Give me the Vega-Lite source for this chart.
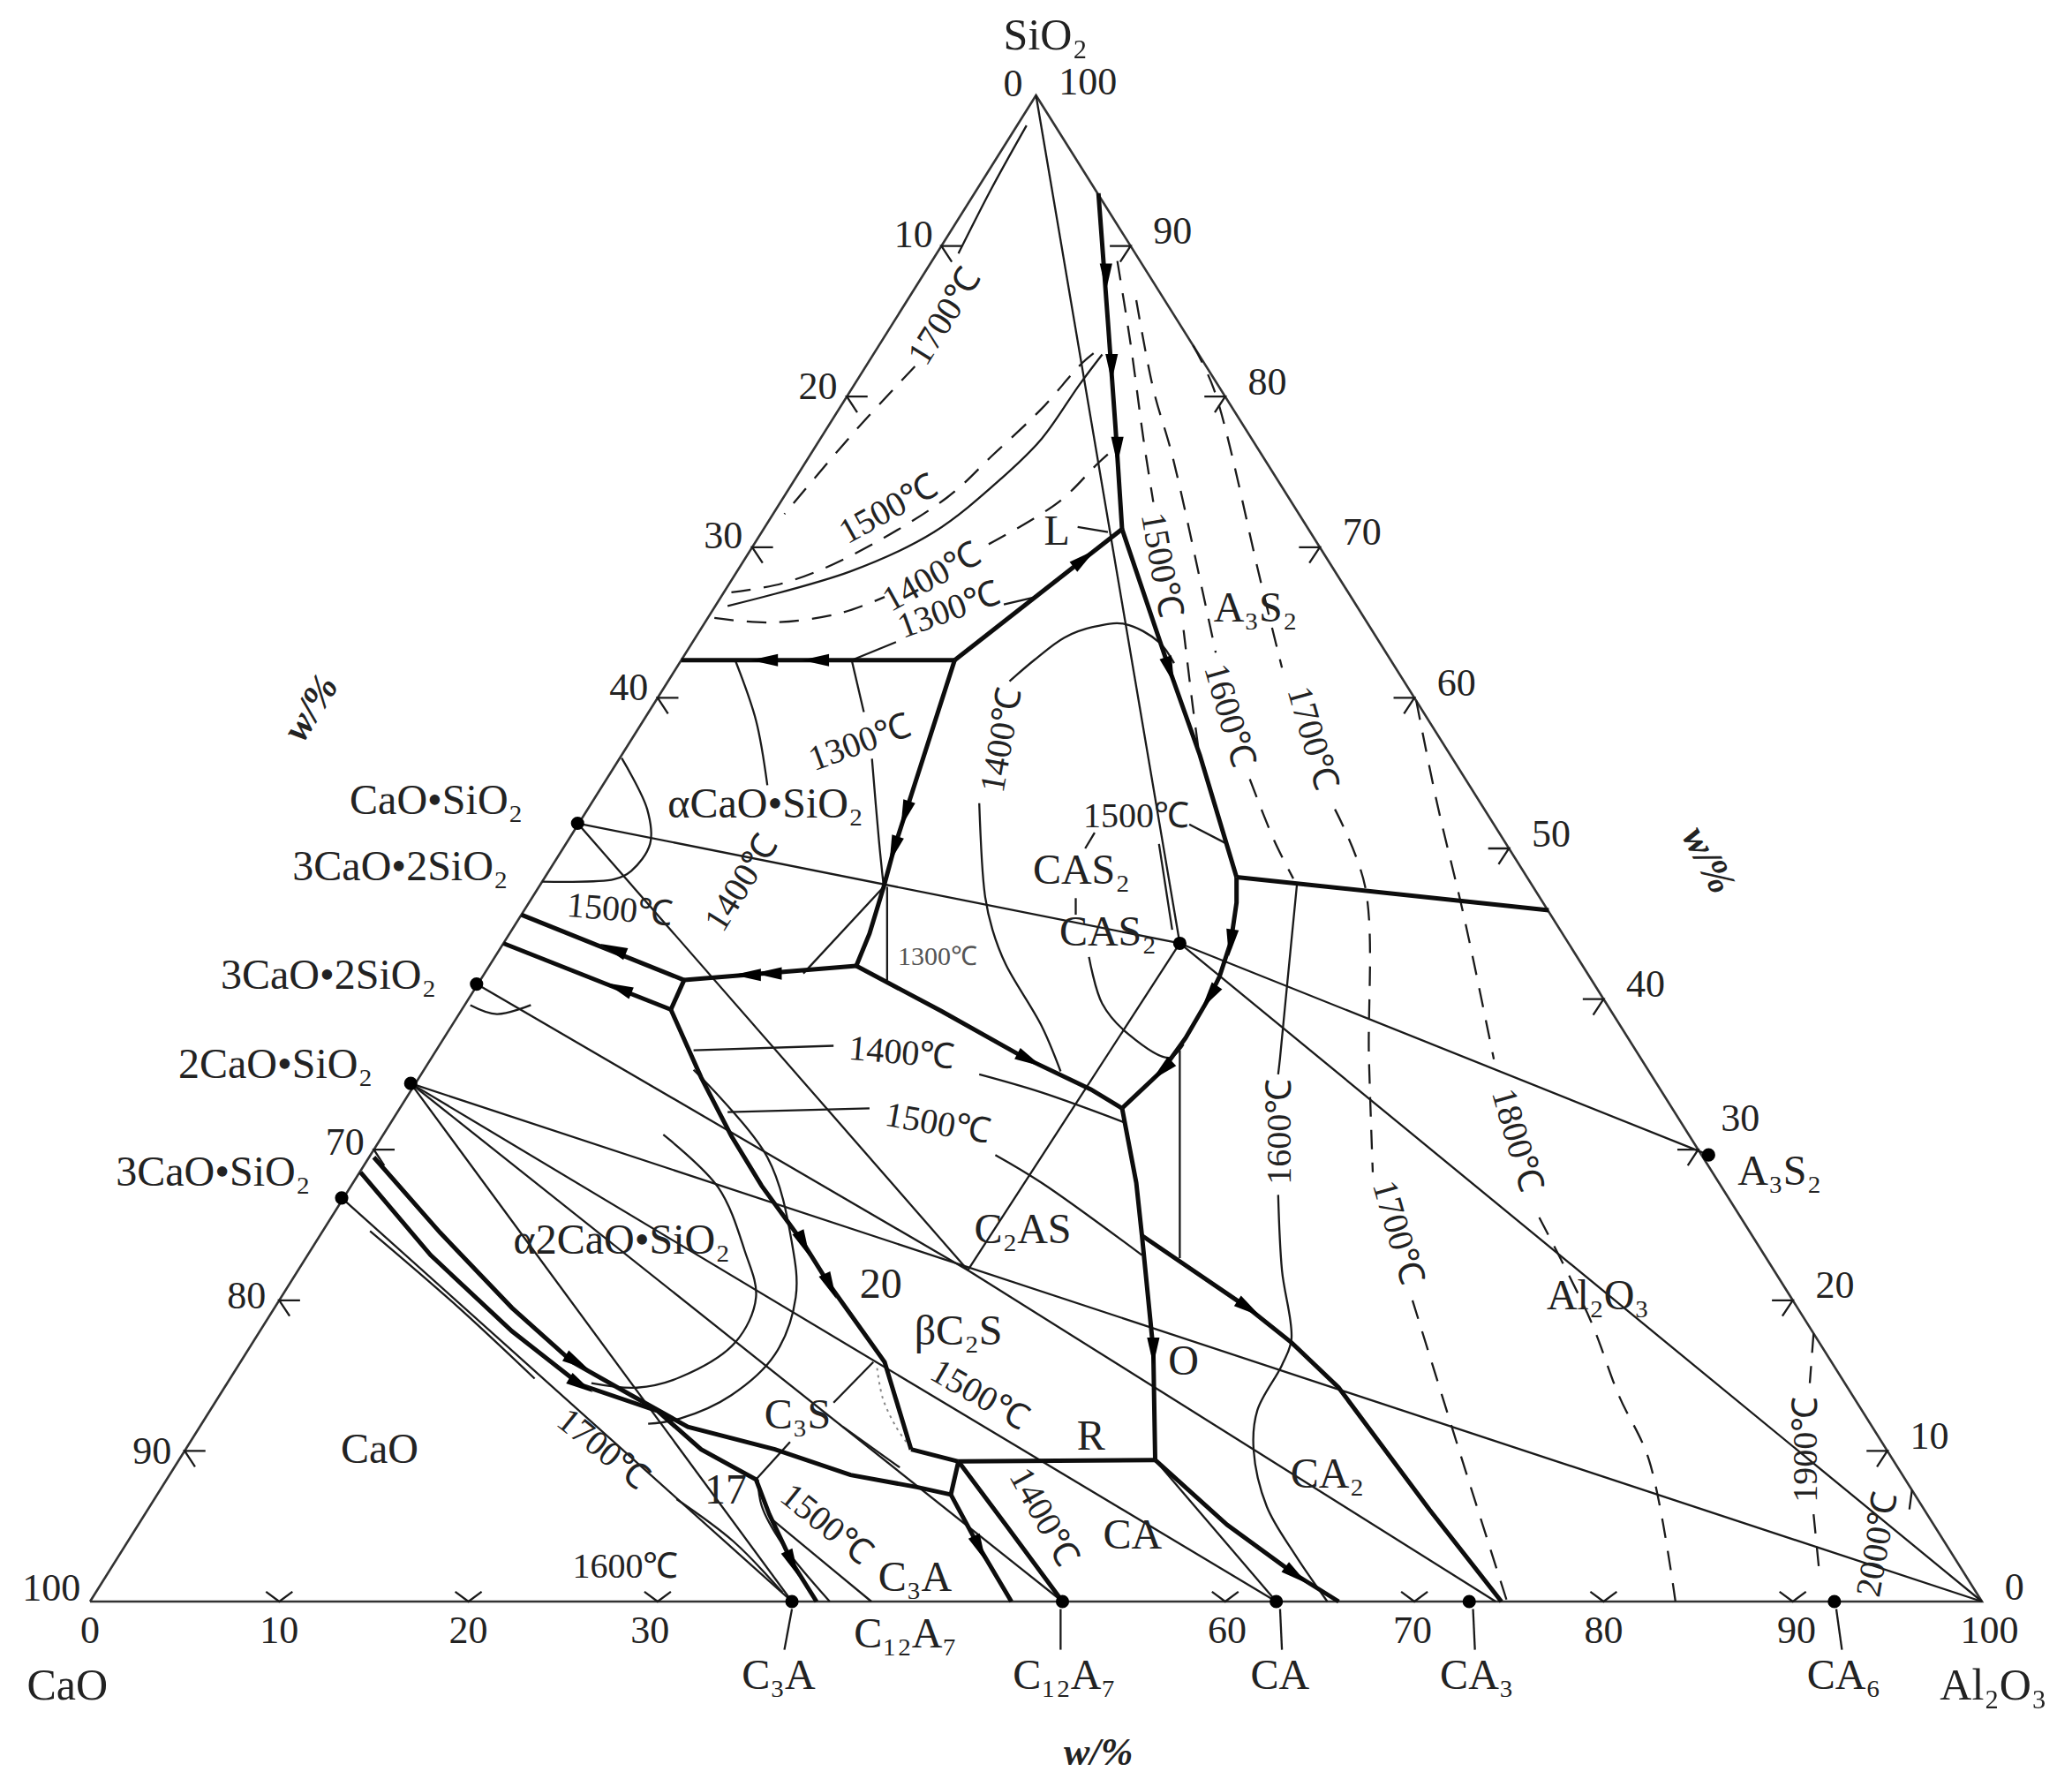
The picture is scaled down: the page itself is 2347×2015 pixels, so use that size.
{
"$schema": "https://vega.github.io/schema/vega-lite/v6.json",
"width": 2143, "height": 1706,
"autosize": {"type": "none"},
"padding": {"left": 102, "top": 108, "right": 102, "bottom": 201},
"background": "white",
"config": {"view": {"stroke": null}},
"datasets": {
"frame": [{"o":1,"x":0,"y":0},{"o":2,"x":100,"y":0},{"o":3,"x":50,"y":100},{"o":4,"x":0,"y":0}],
"thin": [
{"g":"t1","o":1,"x":50,"y":100},{"g":"t1","o":2,"x":57.6,"y":43.7},
{"g":"t2","o":1,"x":25.77,"y":51.67},{"g":"t2","o":2,"x":57.6,"y":43.7},
{"g":"t3","o":1,"x":57.6,"y":43.7},{"g":"t3","o":2,"x":85.55,"y":29.65},
{"g":"t4","o":1,"x":57.6,"y":43.7},{"g":"t4","o":2,"x":100,"y":0},
{"g":"t6","o":1,"x":16.95,"y":34.4},{"g":"t6","o":2,"x":100,"y":0},
{"g":"t7","o":1,"x":16.95,"y":34.4},{"g":"t7","o":2,"x":62.7,"y":0},
{"g":"t8","o":1,"x":16.95,"y":34.4},{"g":"t8","o":2,"x":51.4,"y":0},
{"g":"t9","o":1,"x":16.95,"y":34.4},{"g":"t9","o":2,"x":37.1,"y":0},
{"g":"t10","o":1,"x":13.3,"y":26.8},{"g":"t10","o":2,"x":37.1,"y":0},
{"g":"t11","o":1,"x":25.77,"y":51.67},{"g":"t11","o":2,"x":46.4,"y":22},
{"g":"t12","o":1,"x":57.6,"y":43.7},{"g":"t12","o":2,"x":46.4,"y":22},
{"g":"t13","o":1,"x":46.4,"y":22},{"g":"t13","o":2,"x":74.3,"y":0},
{"g":"t14","o":1,"x":20.43,"y":41},{"g":"t14","o":2,"x":46.4,"y":22},
{"g":"t16","o":1,"x":56.3,"y":9.4},{"g":"t16","o":2,"x":62.7,"y":0},
{"g":"t17","o":1,"x":37.7,"y":41.7},{"g":"t17","o":2,"x":41.95,"y":47.45},
{"g":"i1300a","o":1,"x":40.26,"y":62.5},{"g":"i1300a","o":2,"x":42.6,"y":63.7},
{"g":"i1300a2","o":1,"x":48.3,"y":66.2},{"g":"i1300a2","o":2,"x":50,"y":66.7},
{"g":"i1300b","o":1,"x":40.26,"y":62.5},{"g":"i1300b","o":2,"x":40.9,"y":59.05},
{"g":"i1300c","o":1,"x":42.13,"y":47.45},{"g":"i1300c","o":2,"x":42.13,"y":41.26},
{"g":"vcas","o":1,"x":56.5,"y":50.3},{"g":"vcas","o":2,"x":57.2,"y":44.6},
{"g":"vcas2","o":1,"x":57.6,"y":36.6},{"g":"vcas2","o":2,"x":57.6,"y":22.8},
{"g":"i1400c2s","o":1,"x":31.9,"y":36.6},{"g":"i1400c2s","o":2,"x":39.3,"y":36.9},
{"g":"i1500c2s","o":1,"x":33.7,"y":32.5},{"g":"i1500c2s","o":2,"x":41.2,"y":32.75},
{"g":"i1500c3a","o":1,"x":35.9,"y":5.6},{"g":"i1500c3a","o":2,"x":41.3,"y":0},
{"g":"c3sl1","o":1,"x":39.3,"y":13.2},{"g":"c3sl1","o":2,"x":41.4,"y":15.9},
{"g":"c3sl2","o":1,"x":39.8,"y":11.6},{"g":"c3sl2","o":2,"x":42.8,"y":8.9},
{"g":"c3sl3","o":1,"x":35.2,"y":8.1},{"g":"c3sl3","o":2,"x":37,"y":10.6},
{"g":"larr","o":1,"x":52.2,"y":71.35},{"g":"larr","o":2,"x":53.8,"y":71},
{"g":"casl","o":1,"x":52.1,"y":46.7},{"g":"casl","o":2,"x":52.1,"y":45.6},
{"g":"lc3a","o":1,"x":37.1,"y":-0.5},{"g":"lc3a","o":2,"x":36.7,"y":-3.2},
{"g":"lc12","o":1,"x":51.3,"y":-0.5},{"g":"lc12","o":2,"x":51.3,"y":-3.2},
{"g":"lca","o":1,"x":62.9,"y":-0.5},{"g":"lca","o":2,"x":63,"y":-3.2},
{"g":"lca3","o":1,"x":73.1,"y":-0.5},{"g":"lca3","o":2,"x":73.2,"y":-3.2},
{"g":"lca6","o":1,"x":92.3,"y":-0.5},{"g":"lca6","o":2,"x":92.6,"y":-3.2},
{"g":"tl10","o":1,"x":46.1,"y":90},{"g":"tl10","o":2,"x":45,"y":90},{"g":"tl10","o":3,"x":45.55,"y":88.95},
{"g":"tl20","o":1,"x":41.1,"y":80},{"g":"tl20","o":2,"x":40,"y":80},{"g":"tl20","o":3,"x":40.55,"y":78.95},
{"g":"tl30","o":1,"x":36.1,"y":70},{"g":"tl30","o":2,"x":35,"y":70},{"g":"tl30","o":3,"x":35.55,"y":68.95},
{"g":"tl40","o":1,"x":31.1,"y":60},{"g":"tl40","o":2,"x":30,"y":60},{"g":"tl40","o":3,"x":30.55,"y":58.95},
{"g":"tl70","o":1,"x":16.1,"y":30},{"g":"tl70","o":2,"x":15,"y":30},{"g":"tl70","o":3,"x":15.55,"y":28.95},
{"g":"tl80","o":1,"x":11.1,"y":20},{"g":"tl80","o":2,"x":10,"y":20},{"g":"tl80","o":3,"x":10.55,"y":18.95},
{"g":"tl90","o":1,"x":6.1,"y":10},{"g":"tl90","o":2,"x":5,"y":10},{"g":"tl90","o":3,"x":5.55,"y":8.95},
{"g":"tr90","o":1,"x":53.9,"y":90},{"g":"tr90","o":2,"x":55,"y":90},{"g":"tr90","o":3,"x":54.45,"y":88.95},
{"g":"tr80","o":1,"x":58.9,"y":80},{"g":"tr80","o":2,"x":60,"y":80},{"g":"tr80","o":3,"x":59.45,"y":78.95},
{"g":"tr70","o":1,"x":63.9,"y":70},{"g":"tr70","o":2,"x":65,"y":70},{"g":"tr70","o":3,"x":64.45,"y":68.95},
{"g":"tr60","o":1,"x":68.9,"y":60},{"g":"tr60","o":2,"x":70,"y":60},{"g":"tr60","o":3,"x":69.45,"y":58.95},
{"g":"tr50","o":1,"x":73.9,"y":50},{"g":"tr50","o":2,"x":75,"y":50},{"g":"tr50","o":3,"x":74.45,"y":48.95},
{"g":"tr40","o":1,"x":78.9,"y":40},{"g":"tr40","o":2,"x":80,"y":40},{"g":"tr40","o":3,"x":79.45,"y":38.95},
{"g":"tr30","o":1,"x":83.9,"y":30},{"g":"tr30","o":2,"x":85,"y":30},{"g":"tr30","o":3,"x":84.45,"y":28.95},
{"g":"tr20","o":1,"x":88.9,"y":20},{"g":"tr20","o":2,"x":90,"y":20},{"g":"tr20","o":3,"x":89.45,"y":18.95},
{"g":"tr10","o":1,"x":93.9,"y":10},{"g":"tr10","o":2,"x":95,"y":10},{"g":"tr10","o":3,"x":94.45,"y":8.95},
{"g":"tb10","o":1,"x":9.3,"y":0.65},{"g":"tb10","o":2,"x":10,"y":0},{"g":"tb10","o":3,"x":10.7,"y":0.65},
{"g":"tb20","o":1,"x":19.3,"y":0.65},{"g":"tb20","o":2,"x":20,"y":0},{"g":"tb20","o":3,"x":20.7,"y":0.65},
{"g":"tb30","o":1,"x":29.3,"y":0.65},{"g":"tb30","o":2,"x":30,"y":0},{"g":"tb30","o":3,"x":30.7,"y":0.65},
{"g":"tb60","o":1,"x":59.3,"y":0.65},{"g":"tb60","o":2,"x":60,"y":0},{"g":"tb60","o":3,"x":60.7,"y":0.65},
{"g":"tb70","o":1,"x":69.3,"y":0.65},{"g":"tb70","o":2,"x":70,"y":0},{"g":"tb70","o":3,"x":70.7,"y":0.65},
{"g":"tb80","o":1,"x":79.3,"y":0.65},{"g":"tb80","o":2,"x":80,"y":0},{"g":"tb80","o":3,"x":80.7,"y":0.65},
{"g":"tb90","o":1,"x":89.3,"y":0.65},{"g":"tb90","o":2,"x":90,"y":0},{"g":"tb90","o":3,"x":90.7,"y":0.65}
],
"curve": [
{"g":"i1700s","o":1,"x":49.5,"y":98},{"g":"i1700s","o":2,"x":47.6,"y":93.7},{"g":"i1700s","o":3,"x":45.9,"y":89.5},
{"g":"i1500a","o":1,"x":33.7,"y":66.1},{"g":"i1500a","o":2,"x":40.2,"y":68.4},{"g":"i1500a","o":3,"x":44.6,"y":71},{"g":"i1500a","o":4,"x":48.2,"y":74.6},{"g":"i1500a","o":5,"x":50.3,"y":77.2},{"g":"i1500a","o":6,"x":52.3,"y":80.8},{"g":"i1500a","o":7,"x":53.5,"y":82.8},
{"g":"i1300b2","o":1,"x":41.33,"y":55.96},{"g":"i1300b2","o":2,"x":41.7,"y":50.5},{"g":"i1300b2","o":3,"x":41.95,"y":47.45},
{"g":"i1400cs","o":1,"x":34.1,"y":62.5},{"g":"i1400cs","o":2,"x":35.2,"y":58.5},{"g":"i1400cs","o":3,"x":35.8,"y":54.2},
{"g":"semi","o":1,"x":28.1,"y":56},{"g":"semi","o":2,"x":29.45,"y":52.6},{"g":"semi","o":3,"x":29.6,"y":50.3},{"g":"semi","o":4,"x":28.6,"y":48.5},{"g":"semi","o":5,"x":27.7,"y":47.95},{"g":"semi","o":6,"x":23.9,"y":47.8},
{"g":"c3s2arc","o":1,"x":20.1,"y":39.6},{"g":"c3s2arc","o":2,"x":21.5,"y":39},{"g":"c3s2arc","o":3,"x":23.3,"y":39.6},
{"g":"an14u","o":1,"x":48.6,"y":61.1},{"g":"an14u","o":2,"x":49.9,"y":62.5},{"g":"an14u","o":3,"x":51.5,"y":64},{"g":"an14u","o":4,"x":53,"y":64.7},{"g":"an14u","o":5,"x":54.7,"y":64.9},{"g":"an14u","o":6,"x":56.5,"y":63.7},{"g":"an14u","o":7,"x":57.3,"y":62.3},
{"g":"an14l","o":1,"x":47,"y":53},{"g":"an14l","o":2,"x":47.3,"y":46.9},{"g":"an14l","o":3,"x":47.7,"y":44.6},{"g":"an14l","o":4,"x":48.4,"y":42.3},{"g":"an14l","o":5,"x":50.3,"y":38.2},{"g":"an14l","o":6,"x":51.3,"y":35.2},
{"g":"an15r","o":1,"x":60.1,"y":50.3},{"g":"an15r","o":2,"x":58.1,"y":51.6},
{"g":"an15l","o":1,"x":53.1,"y":51.05},{"g":"an15l","o":2,"x":52.6,"y":50},
{"g":"an15b","o":1,"x":52.8,"y":42.8},{"g":"an15b","o":2,"x":53.5,"y":39.7},{"g":"an15b","o":3,"x":54.9,"y":37.65},{"g":"an15b","o":4,"x":57.05,"y":36.1},{"g":"an15b","o":5,"x":57.8,"y":37},
{"g":"s1600a","o":1,"x":63.8,"y":47.7},{"g":"s1600a","o":2,"x":63.2,"y":40},{"g":"s1600a","o":3,"x":62.9,"y":36.1},{"g":"s1600a","o":4,"x":62.8,"y":35},
{"g":"s1600b","o":1,"x":62.8,"y":27},{"g":"s1600b","o":2,"x":63,"y":22},{"g":"s1600b","o":3,"x":63.5,"y":17.4},{"g":"s1600b","o":4,"x":63,"y":15.7},{"g":"s1600b","o":5,"x":61.7,"y":12.7},{"g":"s1600b","o":6,"x":61.5,"y":10.1},{"g":"s1600b","o":7,"x":62.2,"y":6.3},{"g":"s1600b","o":8,"x":63.7,"y":3.1},{"g":"s1600b","o":9,"x":65.4,"y":0},
{"g":"arc1","o":1,"x":30.3,"y":31},{"g":"arc1","o":2,"x":33.2,"y":27.5},{"g":"arc1","o":3,"x":34.6,"y":23.3},{"g":"arc1","o":4,"x":35.2,"y":20.2},{"g":"arc1","o":5,"x":34.1,"y":17.2},{"g":"arc1","o":6,"x":31.2,"y":14.9},{"g":"arc1","o":7,"x":28.9,"y":14.2},{"g":"arc1","o":8,"x":26.5,"y":14.5},
{"g":"arc2","o":1,"x":31.9,"y":35.3},{"g":"arc2","o":2,"x":35.8,"y":29.5},{"g":"arc2","o":3,"x":37.1,"y":23.8},{"g":"arc2","o":4,"x":37.3,"y":20.2},{"g":"arc2","o":5,"x":36.2,"y":16.4},{"g":"arc2","o":6,"x":33.9,"y":13.7},{"g":"arc2","o":7,"x":31.2,"y":12.15},{"g":"arc2","o":8,"x":29.5,"y":11.8},
{"g":"c2s14","o":1,"x":47,"y":35},{"g":"c2s14","o":2,"x":50.3,"y":33.8},{"g":"c2s14","o":3,"x":54.7,"y":31.8},
{"g":"c2s15","o":1,"x":47.85,"y":29.65},{"g":"c2s15","o":2,"x":50.3,"y":27.8},{"g":"c2s15","o":3,"x":55.6,"y":23},
{"g":"cao17a","o":1,"x":14.8,"y":24.6},{"g":"cao17a","o":2,"x":19.5,"y":19.5},{"g":"cao17a","o":3,"x":23.5,"y":14.8},
{"g":"cao17b","o":1,"x":31,"y":6.8},{"g":"cao17b","o":2,"x":34,"y":4},{"g":"cao17b","o":3,"x":36.6,"y":0.6},
{"g":"c3ac","o":1,"x":35.3,"y":8.1},{"g":"c3ac","o":2,"x":35.5,"y":6.35},{"g":"c3ac","o":3,"x":36.6,"y":3.8},{"g":"c3ac","o":4,"x":39.1,"y":0}
],
"thick": [
{"g":"k1","o":1,"x":53.3,"y":93.5},{"g":"k1","o":2,"x":53.8,"y":85},{"g":"k1","o":3,"x":54.2,"y":78},{"g":"k1","o":4,"x":54.55,"y":71.2},
{"g":"k2","o":1,"x":54.55,"y":71.2},{"g":"k2","o":2,"x":57.05,"y":61.9},{"g":"k2","o":3,"x":58.66,"y":56.2},{"g":"k2","o":4,"x":60.6,"y":48.1},
{"g":"k3","o":1,"x":60.6,"y":48.1},{"g":"k3","o":2,"x":77.1,"y":45.9},
{"g":"k4","o":1,"x":60.6,"y":48.1},{"g":"k4","o":2,"x":60.6,"y":46.4},{"g":"k4","o":3,"x":60.3,"y":43.8},{"g":"k4","o":4,"x":59.7,"y":41.5},{"g":"k4","o":5,"x":59.2,"y":40.2},{"g":"k4","o":6,"x":57.9,"y":37.4},{"g":"k4","o":7,"x":56.7,"y":35.3},{"g":"k4","o":8,"x":54.55,"y":32.75},
{"g":"k5","o":1,"x":40.5,"y":42.2},{"g":"k5","o":2,"x":45,"y":39.2},{"g":"k5","o":3,"x":49.4,"y":36.1},{"g":"k5","o":4,"x":52.9,"y":34},{"g":"k5","o":5,"x":54.55,"y":32.75},
{"g":"k6","o":1,"x":54.55,"y":32.75},{"g":"k6","o":2,"x":55.3,"y":27.8},{"g":"k6","o":3,"x":55.6,"y":24.3},{"g":"k6","o":4,"x":56.2,"y":16.7},{"g":"k6","o":5,"x":56.3,"y":9.4},
{"g":"k7","o":1,"x":45.9,"y":9.3},{"g":"k7","o":2,"x":56.3,"y":9.4},
{"g":"k8","o":1,"x":55.6,"y":24.3},{"g":"k8","o":2,"x":61.2,"y":19.5},{"g":"k8","o":3,"x":63.5,"y":17.2},{"g":"k8","o":4,"x":66,"y":14.2},{"g":"k8","o":5,"x":70.8,"y":6.1},{"g":"k8","o":6,"x":74.6,"y":0},
{"g":"k9","o":1,"x":56.3,"y":9.4},{"g":"k9","o":2,"x":60.1,"y":5.1},{"g":"k9","o":3,"x":63.7,"y":1.8},{"g":"k9","o":4,"x":66,"y":0},
{"g":"k10","o":1,"x":31.25,"y":62.5},{"g":"k10","o":2,"x":45.7,"y":62.5},
{"g":"k11","o":1,"x":45.7,"y":62.5},{"g":"k11","o":2,"x":54.55,"y":71.2},
{"g":"k12","o":1,"x":45.7,"y":62.5},{"g":"k12","o":2,"x":43.1,"y":52.35},{"g":"k12","o":3,"x":42.5,"y":50},{"g":"k12","o":4,"x":41.95,"y":47.45},{"g":"k12","o":5,"x":41.2,"y":44.35},{"g":"k12","o":6,"x":40.5,"y":42.2},
{"g":"k13a","o":1,"x":22.8,"y":45.6},{"g":"k13a","o":2,"x":31.4,"y":41.26},
{"g":"k13b","o":1,"x":31.4,"y":41.26},{"g":"k13b","o":2,"x":40.5,"y":42.2},
{"g":"k14","o":1,"x":21.85,"y":43.7},{"g":"k14","o":2,"x":30.7,"y":39.3},
{"g":"k15","o":1,"x":31.4,"y":41.26},{"g":"k15","o":2,"x":30.7,"y":39.3},
{"g":"k16","o":1,"x":30.7,"y":39.3},{"g":"k16","o":2,"x":32.3,"y":34.8},{"g":"k16","o":3,"x":33.9,"y":30.9},{"g":"k16","o":4,"x":35.5,"y":27.6},{"g":"k16","o":5,"x":37.7,"y":23.8},{"g":"k16","o":6,"x":39.1,"y":21},{"g":"k16","o":7,"x":42,"y":15.9},{"g":"k16","o":8,"x":43.4,"y":10.1},
{"g":"k16b","o":1,"x":43.4,"y":10.1},{"g":"k16b","o":2,"x":45.9,"y":9.3},
{"g":"kTA","o":1,"x":15,"y":29.5},{"g":"kTA","o":2,"x":18.5,"y":24.5},{"g":"kTA","o":3,"x":22.3,"y":19.5},{"g":"kTA","o":4,"x":25.5,"y":15.9},{"g":"kTA","o":5,"x":28.6,"y":13.7},{"g":"kTA","o":6,"x":31.6,"y":11.6},{"g":"kTA","o":7,"x":36.2,"y":10.1},{"g":"kTA","o":8,"x":40.2,"y":8.4},{"g":"kTA","o":9,"x":43.7,"y":7.6},{"g":"kTA","o":10,"x":45.5,"y":7.1},
{"g":"kTB","o":1,"x":14.3,"y":28.5},{"g":"kTB","o":2,"x":18,"y":23},{"g":"kTB","o":3,"x":22.3,"y":17.95},{"g":"kTB","o":4,"x":25.9,"y":14.4},{"g":"kTB","o":5,"x":30,"y":12.65},{"g":"kTB","o":6,"x":32.3,"y":10.1},{"g":"kTB","o":7,"x":35.2,"y":8.1},{"g":"kTB","o":8,"x":35.9,"y":5.8},{"g":"kTB","o":9,"x":37.1,"y":2.6},{"g":"kTB","o":10,"x":38.4,"y":0},
{"g":"k18","o":1,"x":45.9,"y":9.3},{"g":"k18","o":2,"x":45.5,"y":7.1},
{"g":"k19","o":1,"x":45.5,"y":7.1},{"g":"k19","o":2,"x":47,"y":3.6},{"g":"k19","o":3,"x":48.7,"y":0},
{"g":"k20","o":1,"x":45.9,"y":9.3},{"g":"k20","o":2,"x":48.4,"y":5.1},{"g":"k20","o":3,"x":51.4,"y":0}
],
"dash": [
{"g":"d17l","o":1,"x":43.6,"y":82},{"g":"d17l","o":2,"x":40.5,"y":77.8},{"g":"d17l","o":3,"x":36.7,"y":72.2},
{"g":"d15l","o":1,"x":33.9,"y":67},{"g":"d15l","o":2,"x":36.6,"y":67.6},{"g":"d15l","o":3,"x":40,"y":69.3},{"g":"d15l","o":4,"x":45.3,"y":73.3},{"g":"d15l","o":5,"x":47.7,"y":76.1},{"g":"d15l","o":6,"x":50.3,"y":79.2},{"g":"d15l","o":7,"x":52.5,"y":82.3},{"g":"d15l","o":8,"x":53.6,"y":83.4},
{"g":"d14a","o":1,"x":33,"y":65.3},{"g":"d14a","o":2,"x":36,"y":65},{"g":"d14a","o":3,"x":39.6,"y":65.6},{"g":"d14a","o":4,"x":42,"y":66.7},
{"g":"d14b","o":1,"x":47.5,"y":70.2},{"g":"d14b","o":2,"x":51.2,"y":73},{"g":"d14b","o":3,"x":53.3,"y":75.6},{"g":"d14b","o":4,"x":54.2,"y":76.6},
{"g":"d15a","o":1,"x":54.3,"y":89},{"g":"d15a","o":2,"x":55,"y":83.5},{"g":"d15a","o":3,"x":55.7,"y":77},{"g":"d15a","o":4,"x":56.2,"y":73},
{"g":"d15b","o":1,"x":57.8,"y":64.5},{"g":"d15b","o":2,"x":58.3,"y":59.3},{"g":"d15b","o":3,"x":58.6,"y":56.5},
{"g":"d16a","o":1,"x":55.3,"y":86.4},{"g":"d16a","o":2,"x":56.2,"y":80.5},{"g":"d16a","o":3,"x":57.2,"y":76.1},{"g":"d16a","o":4,"x":58.8,"y":67.1},{"g":"d16a","o":5,"x":59.5,"y":63},
{"g":"d16b","o":1,"x":61.3,"y":54.6},{"g":"d16b","o":2,"x":62.6,"y":50.5},{"g":"d16b","o":3,"x":63.6,"y":48},
{"g":"d17a","o":1,"x":58.3,"y":83.4},{"g":"d17a","o":2,"x":59.4,"y":80.5},{"g":"d17a","o":3,"x":61.9,"y":67.6},{"g":"d17a","o":4,"x":63,"y":62},
{"g":"d17b","o":1,"x":65.8,"y":52.6},{"g":"d17b","o":2,"x":67.4,"y":47.45},{"g":"d17b","o":3,"x":67.6,"y":36},{"g":"d17b","o":4,"x":67.8,"y":28.5},
{"g":"d17c","o":1,"x":69.9,"y":20},{"g":"d17c","o":2,"x":72.5,"y":9.5},{"g":"d17c","o":3,"x":74.9,"y":0},
{"g":"d18a","o":1,"x":70.1,"y":59.8},{"g":"d18a","o":2,"x":71.2,"y":53},{"g":"d18a","o":3,"x":72.6,"y":45.6},{"g":"d18a","o":4,"x":74.2,"y":36},
{"g":"d18b","o":1,"x":76.6,"y":25.5},{"g":"d18b","o":2,"x":79.3,"y":18.7},{"g":"d18b","o":3,"x":80.8,"y":13.7},{"g":"d18b","o":4,"x":82.4,"y":9.4},{"g":"d18b","o":5,"x":83.8,"y":0},
{"g":"d19a","o":1,"x":91.1,"y":17.8},{"g":"d19a","o":2,"x":90.9,"y":14.5},
{"g":"d19b","o":1,"x":91.1,"y":5.8},{"g":"d19b","o":2,"x":91.4,"y":2},
{"g":"d20","o":1,"x":96.3,"y":7.4},{"g":"d20","o":2,"x":96.1,"y":5.5}
],
"dot": [
{"g":"b1","o":1,"x":41.6,"y":15.5},{"g":"b1","o":2,"x":41.9,"y":13.5},{"g":"b1","o":3,"x":42.6,"y":11.6},{"g":"b1","o":4,"x":43.2,"y":10.5}
],
"pts": [
{"c":"CS","x":25.77,"y":51.67},{"c":"C3S2","x":20.43,"y":41},{"c":"C2S","x":16.95,"y":34.4},{"c":"C3S","x":13.3,"y":26.8},
{"c":"C3A","x":37.1,"y":0},{"c":"C12A7","x":51.4,"y":0},{"c":"CA","x":62.7,"y":0},{"c":"CA3","x":72.9,"y":0},{"c":"CA6","x":92.2,"y":0},
{"c":"A3S2","x":85.55,"y":29.65},{"c":"CAS2","x":57.6,"y":43.7}
],
"arr": [
{"x":53.7,"y":88,"dir":180},{"x":54.0,"y":82,"dir":180},{"x":54.3,"y":76.5,"dir":180},
{"x":35.7,"y":62.5,"dir":-90},{"x":38.4,"y":62.5,"dir":-90},
{"x":52.5,"y":69.2,"dir":52},
{"x":57.05,"y":61.9,"dir":162},
{"x":43.1,"y":52.35,"dir":198},{"x":42.5,"y":50,"dir":198},
{"x":27.7,"y":43.3,"dir":-68},{"x":28,"y":40.7,"dir":-68},
{"x":34.8,"y":41.6,"dir":-90},{"x":35.9,"y":41.7,"dir":-90},
{"x":60.3,"y":43.8,"dir":188},{"x":59.2,"y":40.2,"dir":214},{"x":56.7,"y":35.3,"dir":227},
{"x":49.6,"y":36,"dir":118},
{"x":56.2,"y":16.7,"dir":180},
{"x":61.2,"y":19.5,"dir":124},
{"x":63.7,"y":1.8,"dir":127},
{"x":37.7,"y":23.8,"dir":155},{"x":39.1,"y":21,"dir":155},
{"x":25.7,"y":15.9,"dir":121},{"x":25.9,"y":14.4,"dir":121},
{"x":37.1,"y":2.6,"dir":155},{"x":47,"y":3.6,"dir":155}
],
"labVertex": [
{"t":"SiO₂","x":50.5,"y":103.9},{"t":"CaO","x":-1.2,"y":-5.6},{"t":"Al₂O₃","x":100.6,"y":-5.6}
],
"labComp": [
{"t":"CaO•SiO₂","x":18.3,"y":53.1},{"t":"3CaO•2SiO₂","x":16.4,"y":48.7},{"t":"3CaO•2SiO₂","x":12.6,"y":41.5},
{"t":"2CaO•SiO₂","x":9.8,"y":35.6},{"t":"3CaO•SiO₂","x":6.5,"y":28.4},
{"t":"C₃A","x":36.4,"y":-5},{"t":"C₁₂A₇","x":43.1,"y":-2.2},{"t":"C₁₂A₇","x":51.5,"y":-5},{"t":"CA","x":62.9,"y":-5},
{"t":"CA₃","x":73.3,"y":-5},{"t":"CA₆","x":92.7,"y":-5},
{"t":"A₃S₂","x":89.3,"y":28.5},{"t":"A₃S₂","x":61.6,"y":65.9},{"t":"Al₂O₃","x":79.7,"y":20.2},
{"t":"αCaO•SiO₂","x":35.7,"y":52.9},{"t":"CAS₂","x":52.4,"y":48.5},{"t":"CAS₂","x":53.8,"y":44.35},
{"t":"C₂AS","x":49.3,"y":24.6},{"t":"α2CaO•SiO₂","x":28.1,"y":23.9},{"t":"20","x":41.8,"y":21},
{"t":"βC₂S","x":45.9,"y":17.9},{"t":"C₃S","x":37.4,"y":12.3},{"t":"O","x":57.8,"y":15.9},{"t":"R","x":52.9,"y":10.9},
{"t":"CaO","x":15.3,"y":10},{"t":"17","x":33.6,"y":7.35},{"t":"C₃A","x":43.6,"y":1.55},{"t":"CA","x":55.1,"y":4.35},
{"t":"CA₂","x":65.4,"y":8.4},{"t":"L","x":51.1,"y":71}
],
"tickL": [
{"t":"0","x":49.3,"y":100.7},{"t":"10","x":44.55,"y":90.7},{"t":"20","x":39.5,"y":80.6},{"t":"30","x":34.5,"y":70.7},
{"t":"40","x":29.5,"y":60.6},{"t":"70","x":14.5,"y":30.4},{"t":"80","x":9.3,"y":20.2},{"t":"90","x":4.3,"y":9.9},{"t":"100","x":-0.5,"y":0.8}
],
"tickR": [
{"t":"100","x":51.2,"y":100.8},{"t":"90","x":56.2,"y":90.9},{"t":"80","x":61.2,"y":80.9},{"t":"70","x":66.2,"y":70.9},
{"t":"60","x":71.2,"y":60.9},{"t":"50","x":76.2,"y":50.9},{"t":"40","x":81.2,"y":40.9},{"t":"30","x":86.2,"y":32.0},
{"t":"20","x":91.2,"y":20.9},{"t":"10","x":96.2,"y":10.9},{"t":"0","x":101.2,"y":0.9}
],
"tickB": [
{"t":"0","x":0,"y":-2},{"t":"10","x":10,"y":-2},{"t":"20","x":20,"y":-2},{"t":"30","x":29.6,"y":-2},
{"t":"60","x":60.1,"y":-2},{"t":"70","x":69.9,"y":-2},{"t":"80","x":80,"y":-2},{"t":"90","x":90.2,"y":-2},{"t":"100","x":100.4,"y":-2}
],
"iso0": [{"t":"1500℃","x":55.3,"y":52.1},{"t":"1600℃","x":28.3,"y":2.3}],
"iso5": [{"t":"1500℃","x":28,"y":45.9},{"t":"1400℃","x":42.9,"y":36.4}],
"iso10": [{"t":"1500℃","x":44.8,"y":31.7}],
"isoM58": [{"t":"1700℃","x":45.2,"y":85.3},{"t":"1400℃","x":34.45,"y":47.7}],
"isoM29": [{"t":"1500℃","x":42.2,"y":72.5},{"t":"1400℃","x":44.5,"y":68}],
"isoM20": [{"t":"1300℃","x":45.4,"y":65.8},{"t":"1300℃","x":40.7,"y":57}],
"iso80": [{"t":"1500℃","x":56.6,"y":68.8}],
"iso74": [{"t":"1600℃","x":60.2,"y":58.8},{"t":"1700℃","x":64.6,"y":57.3},{"t":"1700℃","x":69.1,"y":24.5},{"t":"1800℃","x":75.4,"y":30.6}],
"isoM80": [{"t":"1400℃","x":48.2,"y":57.2},{"t":"2000℃","x":94.5,"y":3.8}],
"isoM90": [{"t":"1600℃","x":62.9,"y":31.2},{"t":"1900℃","x":90.7,"y":10.1}],
"iso30": [{"t":"1500℃","x":47,"y":13.7}],
"iso39": [{"t":"1700℃","x":27.1,"y":10.1},{"t":"1500℃","x":38.9,"y":5.1}],
"iso61": [{"t":"1400℃","x":50.4,"y":5.6}],
"isoSmall": [{"t":"1300℃","x":44.8,"y":42.8}],
"wL": [{"t":"w/%","x":11.7,"y":59.3}],
"wR": [{"t":"w/%","x":85.5,"y":49.2}],
"wB": [{"t":"w/%","x":53.3,"y":-10.1}]
},
"encoding": {
"x": {"field":"x","type":"quantitative","scale":{"domain":[0,100],"nice":false,"zero":false},"axis":null},
"y": {"field":"y","type":"quantitative","scale":{"domain":[0,100],"nice":false,"zero":false},"axis":null}
},
"layer": [
{"data":{"name":"frame"},"mark":{"type":"line","stroke":"#333","strokeWidth":2.6},"encoding":{"order":{"field":"o"}}},
{"data":{"name":"thin"},"mark":{"type":"line","stroke":"#1a1a1a","strokeWidth":2.3},"encoding":{"detail":{"field":"g"},"order":{"field":"o"}}},
{"data":{"name":"curve"},"mark":{"type":"line","stroke":"#1a1a1a","strokeWidth":2.3,"interpolate":"catmull-rom"},"encoding":{"detail":{"field":"g"},"order":{"field":"o"}}},
{"data":{"name":"dash"},"mark":{"type":"line","stroke":"#1a1a1a","strokeWidth":2.3,"strokeDash":[22,15],"interpolate":"catmull-rom"},"encoding":{"detail":{"field":"g"},"order":{"field":"o"}}},
{"data":{"name":"dot"},"mark":{"type":"line","stroke":"#888","strokeWidth":2,"strokeDash":[3,5],"interpolate":"catmull-rom"},"encoding":{"detail":{"field":"g"},"order":{"field":"o"}}},
{"data":{"name":"thick"},"mark":{"type":"line","stroke":"#0d0d0d","strokeWidth":5},"encoding":{"detail":{"field":"g"},"order":{"field":"o"}}},
{"data":{"name":"pts"},"mark":{"type":"point","shape":"circle","filled":true,"size":230,"color":"#000","opacity":1}},
{"data":{"name":"arr"},"mark":{"type":"point","shape":"M0,-1.2L0.5,1L-0.5,1Z","filled":true,"size":800,"color":"#000","opacity":1},"encoding":{"angle":{"field":"dir","type":"quantitative","scale":null}}},
{"data":{"name":"labVertex"},"mark":{"type":"text","font":"Liberation Serif","fontSize":50,"fill":"#222"},"encoding":{"text":{"field":"t"}}},
{"data":{"name":"labComp"},"mark":{"type":"text","font":"Liberation Serif","fontSize":48,"fill":"#222"},"encoding":{"text":{"field":"t"}}},
{"data":{"name":"tickL"},"mark":{"type":"text","font":"Liberation Serif","fontSize":44,"fill":"#222","align":"right"},"encoding":{"text":{"field":"t"}}},
{"data":{"name":"tickR"},"mark":{"type":"text","font":"Liberation Serif","fontSize":44,"fill":"#222","align":"left"},"encoding":{"text":{"field":"t"}}},
{"data":{"name":"tickB"},"mark":{"type":"text","font":"Liberation Serif","fontSize":44,"fill":"#222"},"encoding":{"text":{"field":"t"}}},
{"data":{"name":"iso0"},"mark":{"type":"text","font":"Liberation Serif","fontSize":40,"fill":"#222","angle":0},"encoding":{"text":{"field":"t"}}},
{"data":{"name":"iso5"},"mark":{"type":"text","font":"Liberation Serif","fontSize":40,"fill":"#222","angle":5},"encoding":{"text":{"field":"t"}}},
{"data":{"name":"iso10"},"mark":{"type":"text","font":"Liberation Serif","fontSize":40,"fill":"#222","angle":10},"encoding":{"text":{"field":"t"}}},
{"data":{"name":"isoM58"},"mark":{"type":"text","font":"Liberation Serif","fontSize":40,"fill":"#222","angle":-58},"encoding":{"text":{"field":"t"}}},
{"data":{"name":"isoM29"},"mark":{"type":"text","font":"Liberation Serif","fontSize":40,"fill":"#222","angle":-29},"encoding":{"text":{"field":"t"}}},
{"data":{"name":"isoM20"},"mark":{"type":"text","font":"Liberation Serif","fontSize":40,"fill":"#222","angle":-20},"encoding":{"text":{"field":"t"}}},
{"data":{"name":"iso80"},"mark":{"type":"text","font":"Liberation Serif","fontSize":40,"fill":"#222","angle":80},"encoding":{"text":{"field":"t"}}},
{"data":{"name":"iso74"},"mark":{"type":"text","font":"Liberation Serif","fontSize":40,"fill":"#222","angle":74},"encoding":{"text":{"field":"t"}}},
{"data":{"name":"isoM80"},"mark":{"type":"text","font":"Liberation Serif","fontSize":40,"fill":"#222","angle":-80},"encoding":{"text":{"field":"t"}}},
{"data":{"name":"isoM90"},"mark":{"type":"text","font":"Liberation Serif","fontSize":40,"fill":"#222","angle":-90},"encoding":{"text":{"field":"t"}}},
{"data":{"name":"iso30"},"mark":{"type":"text","font":"Liberation Serif","fontSize":40,"fill":"#222","angle":30},"encoding":{"text":{"field":"t"}}},
{"data":{"name":"iso39"},"mark":{"type":"text","font":"Liberation Serif","fontSize":40,"fill":"#222","angle":39},"encoding":{"text":{"field":"t"}}},
{"data":{"name":"iso61"},"mark":{"type":"text","font":"Liberation Serif","fontSize":40,"fill":"#222","angle":61},"encoding":{"text":{"field":"t"}}},
{"data":{"name":"isoSmall"},"mark":{"type":"text","font":"Liberation Serif","fontSize":30,"fill":"#555"},"encoding":{"text":{"field":"t"}}},
{"data":{"name":"wL"},"mark":{"type":"text","font":"Liberation Serif","fontSize":44,"fontStyle":"italic","fontWeight":"bold","fill":"#222","angle":-58},"encoding":{"text":{"field":"t"}}},
{"data":{"name":"wR"},"mark":{"type":"text","font":"Liberation Serif","fontSize":44,"fontStyle":"italic","fontWeight":"bold","fill":"#222","angle":62},"encoding":{"text":{"field":"t"}}},
{"data":{"name":"wB"},"mark":{"type":"text","font":"Liberation Serif","fontSize":44,"fontStyle":"italic","fontWeight":"bold","fill":"#222"},"encoding":{"text":{"field":"t"}}}
]
}
